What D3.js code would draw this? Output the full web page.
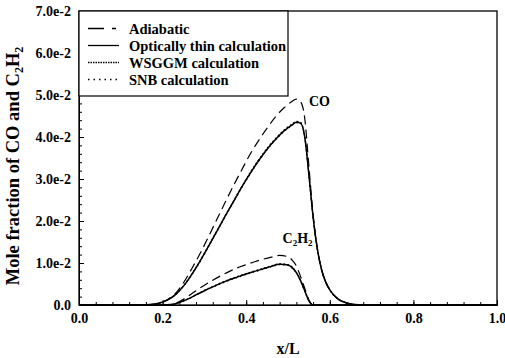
<!DOCTYPE html>
<html>
<head>
<meta charset="utf-8">
<script src="https://cdn.jsdelivr.net/npm/d3@7"></script>
<style>
  body { margin: 0; background: #fff; }
  svg text { font-family: "Liberation Serif", "DejaVu Serif", serif; font-weight: bold; fill: #000; }
</style>
</head>
<body>
<svg id="chart" width="505" height="358"></svg>
<script>
// CO profiles
const coX = [0, 0.15, 0.17, 0.19, 0.21, 0.23, 0.25, 0.27, 0.29, 0.31, 0.33, 0.35, 0.37, 0.39, 0.41, 0.43, 0.45, 0.47, 0.49, 0.51, 0.52, 0.53, 0.54, 0.55, 0.56, 0.57, 0.58, 0.59, 0.60, 0.62, 0.64, 0.66, 0.68, 1.0];
const coAdiabatic = [0, 0, 0.0001, 0.0004, 0.0012, 0.0027, 0.0053, 0.0087, 0.0123, 0.0163, 0.0204, 0.0245, 0.0285, 0.0323, 0.0360, 0.0392, 0.0421, 0.0448, 0.0469, 0.0485, 0.0490, 0.0484, 0.0445, 0.0330, 0.0215, 0.0135, 0.0085, 0.0055, 0.0036, 0.0014, 0.0005, 0.0001, 0, 0];
const coThin = [0, 0, 0.0001, 0.0004, 0.0011, 0.0024, 0.0045, 0.0073, 0.0105, 0.0140, 0.0176, 0.0212, 0.0247, 0.0282, 0.0314, 0.0344, 0.0371, 0.0394, 0.0414, 0.0429, 0.0435, 0.0433, 0.0400, 0.0310, 0.0210, 0.0135, 0.0085, 0.0055, 0.0036, 0.0014, 0.0005, 0.0001, 0, 0];
const coWsggm = [0, 0, 0.0001, 0.0004, 0.0011, 0.0024, 0.0046, 0.0074, 0.0106, 0.0141, 0.0177, 0.0213, 0.0248, 0.0283, 0.0316, 0.0346, 0.0373, 0.0396, 0.0416, 0.0431, 0.0437, 0.0435, 0.0402, 0.0312, 0.0212, 0.0136, 0.0086, 0.0056, 0.0036, 0.0014, 0.0005, 0.0001, 0, 0];
const coSnb = [0, 0, 0.0001, 0.0004, 0.0011, 0.0024, 0.0045, 0.0072, 0.0104, 0.0139, 0.0175, 0.0211, 0.0246, 0.0281, 0.0313, 0.0343, 0.0370, 0.0393, 0.0413, 0.0428, 0.0434, 0.0432, 0.0399, 0.0309, 0.0209, 0.0134, 0.0085, 0.0055, 0.0036, 0.0014, 0.0005, 0.0001, 0, 0];

// C2H2 profiles
const c2h2X = [0, 0.20, 0.22, 0.24, 0.26, 0.28, 0.30, 0.32, 0.34, 0.36, 0.38, 0.40, 0.42, 0.44, 0.46, 0.48, 0.50, 0.51, 0.52, 0.53, 0.54, 0.55, 0.56, 1.0];
const c2h2Adiabatic = [0, 0, 0.0001, 0.0008, 0.0020, 0.0034, 0.0047, 0.0059, 0.0070, 0.0080, 0.0089, 0.0096, 0.0103, 0.0109, 0.0114, 0.0118, 0.0115, 0.0107, 0.0093, 0.0068, 0.0040, 0.0012, 0, 0];
const c2h2Thin = [0, 0, 0.0001, 0.0006, 0.0014, 0.0024, 0.0034, 0.0043, 0.0052, 0.0060, 0.0067, 0.0074, 0.0080, 0.0086, 0.0092, 0.0097, 0.0095, 0.0089, 0.0077, 0.0058, 0.0034, 0.0010, 0, 0];
const c2h2Wsggm = [0, 0, 0.0001, 0.0006, 0.0014, 0.0024, 0.0035, 0.0044, 0.0053, 0.0061, 0.0068, 0.0075, 0.0081, 0.0087, 0.0093, 0.0098, 0.0096, 0.0090, 0.0078, 0.0059, 0.0035, 0.0010, 0, 0];
const c2h2Snb = [0, 0, 0.0001, 0.0006, 0.0014, 0.0024, 0.0034, 0.0043, 0.0051, 0.0059, 0.0066, 0.0073, 0.0079, 0.0085, 0.0091, 0.0096, 0.0094, 0.0088, 0.0076, 0.0057, 0.0033, 0.0010, 0, 0];

const legendLabels = ['Adiabatic', 'Optically thin calculation', 'WSGGM calculation', 'SNB calculation'];
const xTicks = [0, 0.2, 0.4, 0.6, 0.8, 1.0];
const yTicks = [0, 0.01, 0.02, 0.03, 0.04, 0.05, 0.06, 0.07];

const margin = { top: 11, right: 8, bottom: 53, left: 79 };
const width = 505 - margin.left - margin.right;
const height = 358 - margin.top - margin.bottom;

const svg = d3.select('#chart');
const g = svg.append('g')
    .attr('transform', `translate(${margin.left}, ${margin.top})`);

const xScale = d3.scaleLinear().domain([0, 1]).range([0, width]);
const yScale = d3.scaleLinear().domain([0, 0.07]).range([height, 0]);

// minor ticks
g.append('g')
    .attr('transform', `translate(0,${height})`)
    .call(d3.axisBottom(xScale).tickValues(d3.range(0, 1.0001, 0.04)).tickSize(-3).tickFormat(''))
    .call(a => a.select('.domain').remove());
g.append('g')
    .call(d3.axisLeft(yScale).tickValues(d3.range(0, 0.07001, 0.002)).tickSize(-3).tickFormat(''))
    .call(a => a.select('.domain').remove());

// major ticks
const xAxis = d3.axisBottom(xScale)
    .tickValues(xTicks)
    .tickSize(-5)
    .tickPadding(8)
    .tickFormat(d3.format('.1f'));
const yAxis = d3.axisLeft(yScale)
    .tickValues(yTicks)
    .tickSize(-5)
    .tickPadding(8)
    .tickFormat(d => d === 0 ? '0.0' : (d * 100).toFixed(1) + 'e-2');

g.append('g')
    .attr('transform', `translate(0,${height})`)
    .call(xAxis)
    .attr('font-family', null)
    .call(a => a.selectAll('text').style('font-size', '14px'));
g.append('g')
    .call(yAxis)
    .attr('font-family', null)
    .call(a => a.selectAll('text').style('font-size', '14px'));

g.selectAll('.tick line').attr('stroke', '#000');

// frame
g.append('rect')
    .attr('width', width)
    .attr('height', height)
    .attr('fill', 'none')
    .attr('stroke', '#000')
    .attr('stroke-width', 1.3);

const line = d3.line()
    .x(d => xScale(d[0]))
    .y(d => yScale(d[1]))
    .curve(d3.curveMonotoneX);

const series = [
    { x: coX, y: coAdiabatic, dash: '9,5', w: 1.2 },
    { x: coX, y: coThin, dash: null, w: 1.5 },
    { x: coX, y: coWsggm, dash: '2,2', w: 1.2 },
    { x: coX, y: coSnb, dash: '1.5,3', w: 1.2 },
    { x: c2h2X, y: c2h2Adiabatic, dash: '9,5', w: 1.2 },
    { x: c2h2X, y: c2h2Thin, dash: null, w: 1.5 },
    { x: c2h2X, y: c2h2Wsggm, dash: '2,2', w: 1.2 },
    { x: c2h2X, y: c2h2Snb, dash: '1.5,3', w: 1.2 }
];

g.selectAll('.curve')
    .data(series)
    .enter()
    .append('path')
    .attr('class', 'curve')
    .attr('d', s => line(s.x.map((v, i) => [v, s.y[i]])))
    .attr('fill', 'none')
    .attr('stroke', '#000')
    .attr('stroke-width', s => s.w)
    .attr('stroke-dasharray', s => s.dash);

// curve labels
g.append('text')
    .attr('x', xScale(0.55))
    .attr('y', yScale(0.0473))
    .style('font-size', '14px')
    .text('CO');

const c2 = g.append('text')
    .attr('x', xScale(0.487))
    .attr('y', yScale(0.0148))
    .style('font-size', '14px');
c2.append('tspan').text('C');
c2.append('tspan').attr('dy', 3).style('font-size', '9px').text('2');
c2.append('tspan').attr('dy', -3).text('H');
c2.append('tspan').attr('dy', 3).style('font-size', '9px').text('2');

// legend
const legend = g.append('g');
legend.append('rect')
    .attr('x', 0)
    .attr('y', 0)
    .attr('width', 209)
    .attr('height', 85)
    .attr('fill', '#fff')
    .attr('stroke', '#000')
    .attr('stroke-width', 1.2);

const legendDash = ['16,8,4,20', null, '1.5,1', '1.5,4'];
const rows = legend.selectAll('.row')
    .data(legendLabels)
    .enter()
    .append('g')
    .attr('class', 'row')
    .attr('transform', (d, i) => `translate(0, ${17.5 + i * 17})`);

rows.append('line')
    .attr('x1', 9)
    .attr('x2', 40)
    .attr('y1', 0)
    .attr('y2', 0)
    .attr('stroke', '#000')
    .attr('stroke-width', 1.3)
    .attr('stroke-dasharray', (d, i) => legendDash[i]);

rows.append('text')
    .attr('x', 50)
    .attr('y', 5)
    .style('font-size', '14.5px')
    .text(d => d);

// axis titles
svg.append('text')
    .attr('text-anchor', 'middle')
    .attr('x', margin.left + width / 2)
    .attr('y', 354)
    .style('font-size', '16px')
    .text('x/L');

const yt = svg.append('text')
    .attr('text-anchor', 'middle')
    .attr('transform', `translate(19, 166) rotate(-90)`)
    .style('font-size', '18.5px');
yt.append('tspan').text('Mole fraction of CO and C');
yt.append('tspan').attr('dy', 4).style('font-size', '12px').text('2');
yt.append('tspan').attr('dy', -4).text('H');
yt.append('tspan').attr('dy', 4).style('font-size', '12px').text('2');
</script>
</body>
</html>
